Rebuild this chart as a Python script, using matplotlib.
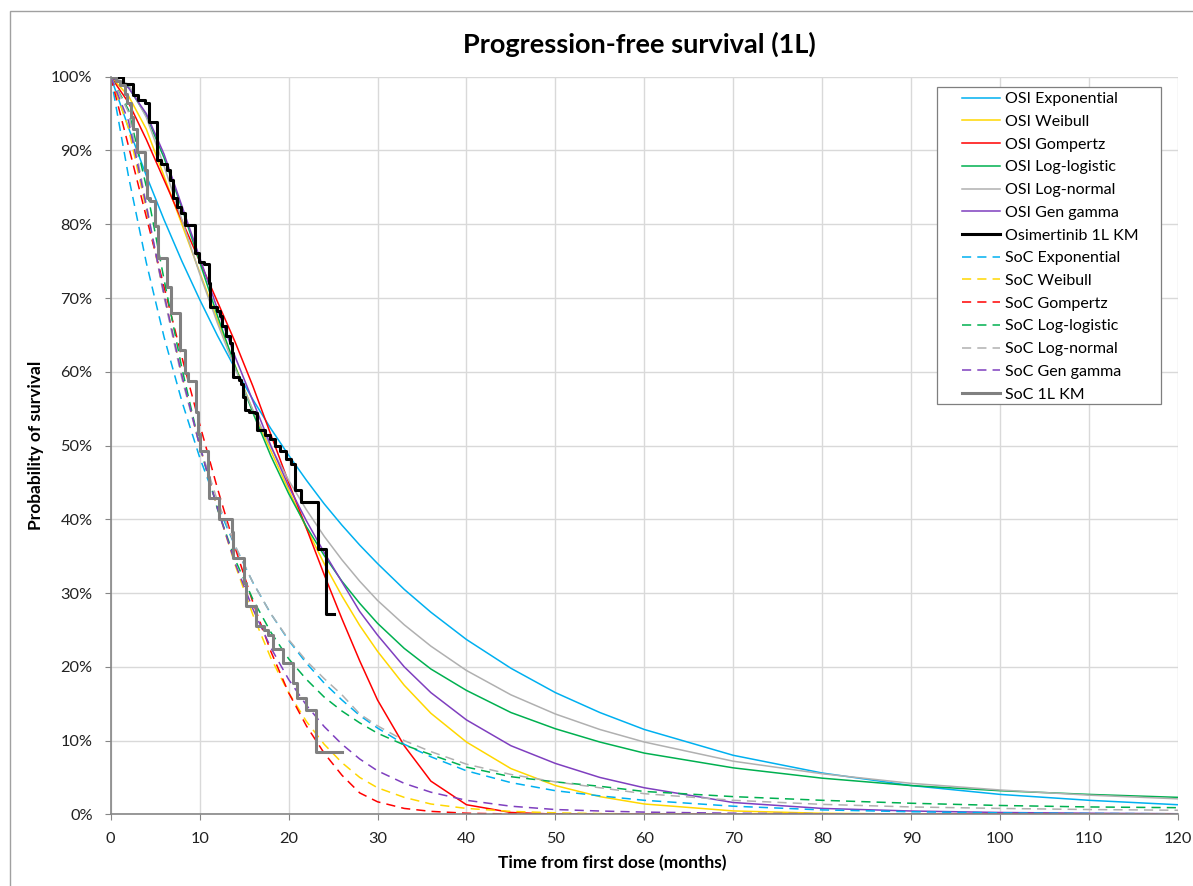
import matplotlib
matplotlib.use('Agg')
import matplotlib.pyplot as plt
import matplotlib as mpl
from matplotlib.patches import Rectangle

mpl.rcParams['font.family'] = ['Lato', 'DejaVu Sans']

# time grid (months) used for the fitted curves
t_fit = [0, 2, 4, 6, 8, 10, 12, 14, 16, 18, 20, 22, 24, 26, 28, 30, 33, 36,
         40, 45, 50, 55, 60, 70, 80, 90, 100, 110, 120]

# Osimertinib fitted curves (% surviving)
osi_exponential = [100, 93.1, 86.6, 80.6, 75.0, 69.8, 64.9, 60.4, 56.2, 52.3, 48.7, 45.3, 42.1, 39.2,
                   36.5, 34.0, 30.5, 27.4, 23.7, 19.8, 16.5, 13.8, 11.5, 8.0, 5.6, 3.9, 2.7, 1.9, 1.3]
osi_weibull = [100, 97.4, 92.9, 86.5, 80.0, 73.5, 67.0, 60.8, 54.7, 49.3, 44.0, 38.8, 34.0, 29.6,
               25.6, 22.1, 17.5, 13.7, 9.8, 6.2, 3.9, 2.4, 1.4, 0.46, 0.14, 0.04, 0.01, 0, 0]
osi_gompertz = [100, 96.5, 91.5, 86.0, 80.5, 75.0, 69.5, 64.0, 58.0, 51.5, 45.0, 38.8, 32.5, 26.5,
                20.8, 15.5, 9.3, 4.5, 1.3, 0.25, 0.03, 0, 0, 0, 0, 0, 0, 0, 0]
osi_loglogistic = [100, 98.6, 94.7, 89.0, 82.2, 74.9, 67.6, 60.7, 54.4, 48.6, 43.5, 39.0, 35.1, 31.6,
                   28.6, 25.9, 22.5, 19.7, 16.8, 13.8, 11.6, 9.8, 8.3, 6.3, 4.9, 3.9, 3.2, 2.7, 2.3]
osi_lognormal = [100, 99.0, 94.5, 87.9, 80.6, 73.3, 66.6, 60.4, 54.8, 49.8, 45.3, 41.3, 37.7, 34.5,
                 31.6, 29.0, 25.7, 22.8, 19.5, 16.2, 13.6, 11.5, 9.8, 7.2, 5.5, 4.2, 3.3, 2.6, 2.1]
osi_gengamma = [100, 98.5, 95.0, 89.5, 82.5, 75.5, 68.5, 62.0, 56.0, 50.0, 44.5, 39.8, 35.5, 31.5,
                27.5, 24.3, 20.0, 16.5, 12.8, 9.3, 6.9, 5.0, 3.6, 1.6, 0.8, 0.45, 0.25, 0.15, 0.08]

# SoC fitted curves (% surviving)
soc_exponential = [100, 86.5, 74.8, 64.7, 56.0, 48.4, 41.9, 36.3, 31.4, 27.2, 23.6, 20.5, 17.8, 15.5,
                   13.4, 11.7, 9.5, 7.8, 5.9, 4.3, 3.2, 2.5, 1.9, 1.1, 0.6, 0.35, 0.2, 0.12, 0.07]
soc_weibull = [100, 93.0, 82.0, 70.5, 59.5, 50.0, 41.5, 33.8, 27.0, 21.2, 16.5, 12.6, 9.5, 7.0,
               5.0, 3.6, 2.3, 1.4, 0.8, 0.4, 0.2, 0.1, 0.05, 0.01, 0, 0, 0, 0, 0]
soc_gompertz = [100, 90.6, 81.0, 71.5, 62.0, 52.9, 44.2, 36.1, 28.7, 22.1, 16.5, 12.0, 8.3, 5.3,
                2.9, 1.7, 0.8, 0.4, 0.15, 0.05, 0.02, 0, 0, 0, 0, 0, 0, 0, 0]
soc_loglogistic = [100, 95.5, 85.1, 72.5, 60.5, 50.0, 41.4, 34.5, 29.1, 24.7, 21.1, 18.3, 15.9, 14.0,
                   12.4, 11.0, 9.4, 8.1, 6.4, 5.1, 4.4, 3.8, 3.1, 2.4, 1.9, 1.5, 1.2, 1.0, 0.9]
soc_lognormal = [100, 95.2, 82.7, 70.1, 59.1, 50.0, 42.5, 36.4, 31.4, 27.2, 23.7, 20.8, 18.4, 16.2,
                 13.6, 12.0, 10.0, 8.5, 6.8, 5.4, 4.4, 3.6, 2.8, 1.9, 1.35, 1.0, 0.8, 0.65, 0.55]
soc_gengamma = [100, 94.0, 82.5, 70.5, 59.5, 50.0, 41.5, 34.0, 27.8, 22.6, 18.3, 14.8, 11.9, 9.5,
                7.5, 5.9, 4.2, 3.0, 1.9, 1.1, 0.65, 0.45, 0.3, 0.15, 0.08, 0.04, 0.02, 0.01, 0.01]

# Kaplan-Meier step data
km_osi_t = [0, 1.4, 2.5, 3.1, 3.9, 4.3, 5.2, 5.7, 6.3, 6.7, 7.0, 7.4, 7.9, 8.3, 9.5, 9.9, 10.5,
            11.0, 11.2, 11.9, 12.3, 12.5, 13.0, 13.4, 13.6, 13.8, 14.4, 14.7, 14.9, 15.1, 15.6,
            16.2, 16.5, 17.4, 17.9, 18.5, 19.0, 19.7, 20.3, 20.7, 21.4, 23.3, 24.2, 25.1]
km_osi_p = [100, 99.0, 97.5, 96.9, 96.4, 93.8, 88.7, 88.2, 87.4, 86.0, 83.5, 82.4, 81.5, 79.9,
            76.1, 74.9, 74.6, 72.0, 68.8, 68.2, 67.5, 66.2, 64.8, 63.9, 62.6, 59.3, 58.9, 58.4,
            56.6, 54.8, 54.6, 54.4, 52.1, 51.4, 50.9, 50.0, 49.3, 48.2, 47.5, 44.0, 42.3, 36.0,
            27.1, 27.1]
km_soc_t = [0, 0.6, 1.0, 1.6, 1.8, 2.3, 2.5, 2.9, 3.9, 4.1, 4.4, 5.0, 5.3, 6.3, 6.8, 7.8, 8.3,
            8.7, 9.6, 9.8, 10.0, 10.9, 11.1, 12.2, 13.6, 13.8, 15.0, 15.2, 16.3, 17.2, 17.7,
            18.3, 19.4, 20.5, 21.0, 22.0, 23.1, 26.0]
km_soc_p = [100, 99.4, 98.9, 97.7, 96.4, 94.6, 92.9, 89.8, 87.4, 83.6, 83.1, 79.7, 75.4, 71.5,
            67.9, 63.0, 59.8, 58.8, 54.5, 51.5, 49.3, 45.8, 42.9, 40.0, 38.3, 34.7, 31.4, 28.3,
            25.5, 25.0, 24.3, 22.4, 20.5, 17.8, 15.8, 14.2, 8.5, 8.5]

x_ticks = list(range(0, 121, 10))
y_ticks = list(range(0, 101, 10))

dist_names = ['Exponential', 'Weibull', 'Gompertz', 'Log-logistic', 'Log-normal', 'Gen gamma']
dist_colors = ['#00B0F0', '#FFD700', '#FF0000', '#00B050', '#B0B0B0', '#7F3FBF']
osi_curves = [osi_exponential, osi_weibull, osi_gompertz, osi_loglogistic, osi_lognormal, osi_gengamma]
soc_curves = [soc_exponential, soc_weibull, soc_gompertz, soc_loglogistic, soc_lognormal, soc_gengamma]

fig = plt.figure(figsize=(11.93, 8.86), dpi=100)
ax = fig.add_axes([0.0928, 0.0809, 0.8946, 0.8325])

# chart area border (only top and left fall inside the image)
fig.add_artist(Rectangle((10 / 1193, -0.05), 1.2, 1 - 11 / 886 + 0.05,
                         transform=fig.transFigure, fill=False,
                         edgecolor='#a0a0a0', linewidth=1.0))

for name, col, vals in zip(dist_names, dist_colors, osi_curves):
    ax.plot(t_fit, vals, color=col, linewidth=1.1, label='OSI ' + name)
ax.plot(km_osi_t, km_osi_p, drawstyle='steps-post', color='black',
        linewidth=2.2, label='Osimertinib 1L KM')

for name, col, vals in zip(dist_names, dist_colors, soc_curves):
    ax.plot(t_fit, vals, color=col, linewidth=1.1, dashes=(6, 4), label='SoC ' + name)
ax.plot(km_soc_t, km_soc_p, drawstyle='steps-post', color='#808080',
        linewidth=2.2, label='SoC 1L KM')

ax.set_xlim(0, 120)
ax.set_ylim(0, 100)
ax.set_xticks(x_ticks)
ax.set_yticks(y_ticks)
ax.set_yticklabels([f'{v}%' for v in y_ticks])
ax.grid(True, color='#d9d9d9', linewidth=1.0)
ax.set_axisbelow(True)

for side in ['top', 'right']:
    ax.spines[side].set_visible(False)
for side in ['left', 'bottom']:
    ax.spines[side].set_color('#868686')
    ax.spines[side].set_linewidth(1.2)
ax.tick_params(axis='both', which='major', direction='out', length=4,
               color='#868686', labelsize=11.8, labelcolor='#222222')
ax.tick_params(axis='y', pad=9)
ax.tick_params(axis='x', pad=9)

fig.text(639 / 1193, 1 - 44 / 886, 'Progression-free survival (1L)', ha='center', va='center',
         fontsize=19.5, fontweight='bold', color='black')
fig.text(612 / 1193, 1 - 863 / 886, 'Time from first dose (months)', ha='center', va='center',
         fontsize=12.5, fontweight='bold', color='black')
fig.text(36 / 1193, 1 - 445 / 886, 'Probability of survival', ha='center', va='center',
         rotation=90, fontsize=12.5, fontweight='bold', color='black')

# legend box drawn separately so the side padding can differ from the top/bottom
ax.add_patch(Rectangle((0.7742, 0.5563), 0.9841 - 0.7742, 0.9860 - 0.5563,
                       transform=ax.transAxes, facecolor='white', edgecolor='#7f7f7f',
                       linewidth=0.9, zorder=5, clip_on=False))
leg = ax.legend(loc='upper left', bbox_to_anchor=((962 - 110.7) / 1067.3, (814.3 - 92) / 737.6),
                borderaxespad=0, borderpad=0, fontsize=11.5, handlelength=2.4,
                handletextpad=0.3, labelspacing=0.535, frameon=False)
leg.set_zorder(6)

fig.savefig('out.png', dpi=100)
